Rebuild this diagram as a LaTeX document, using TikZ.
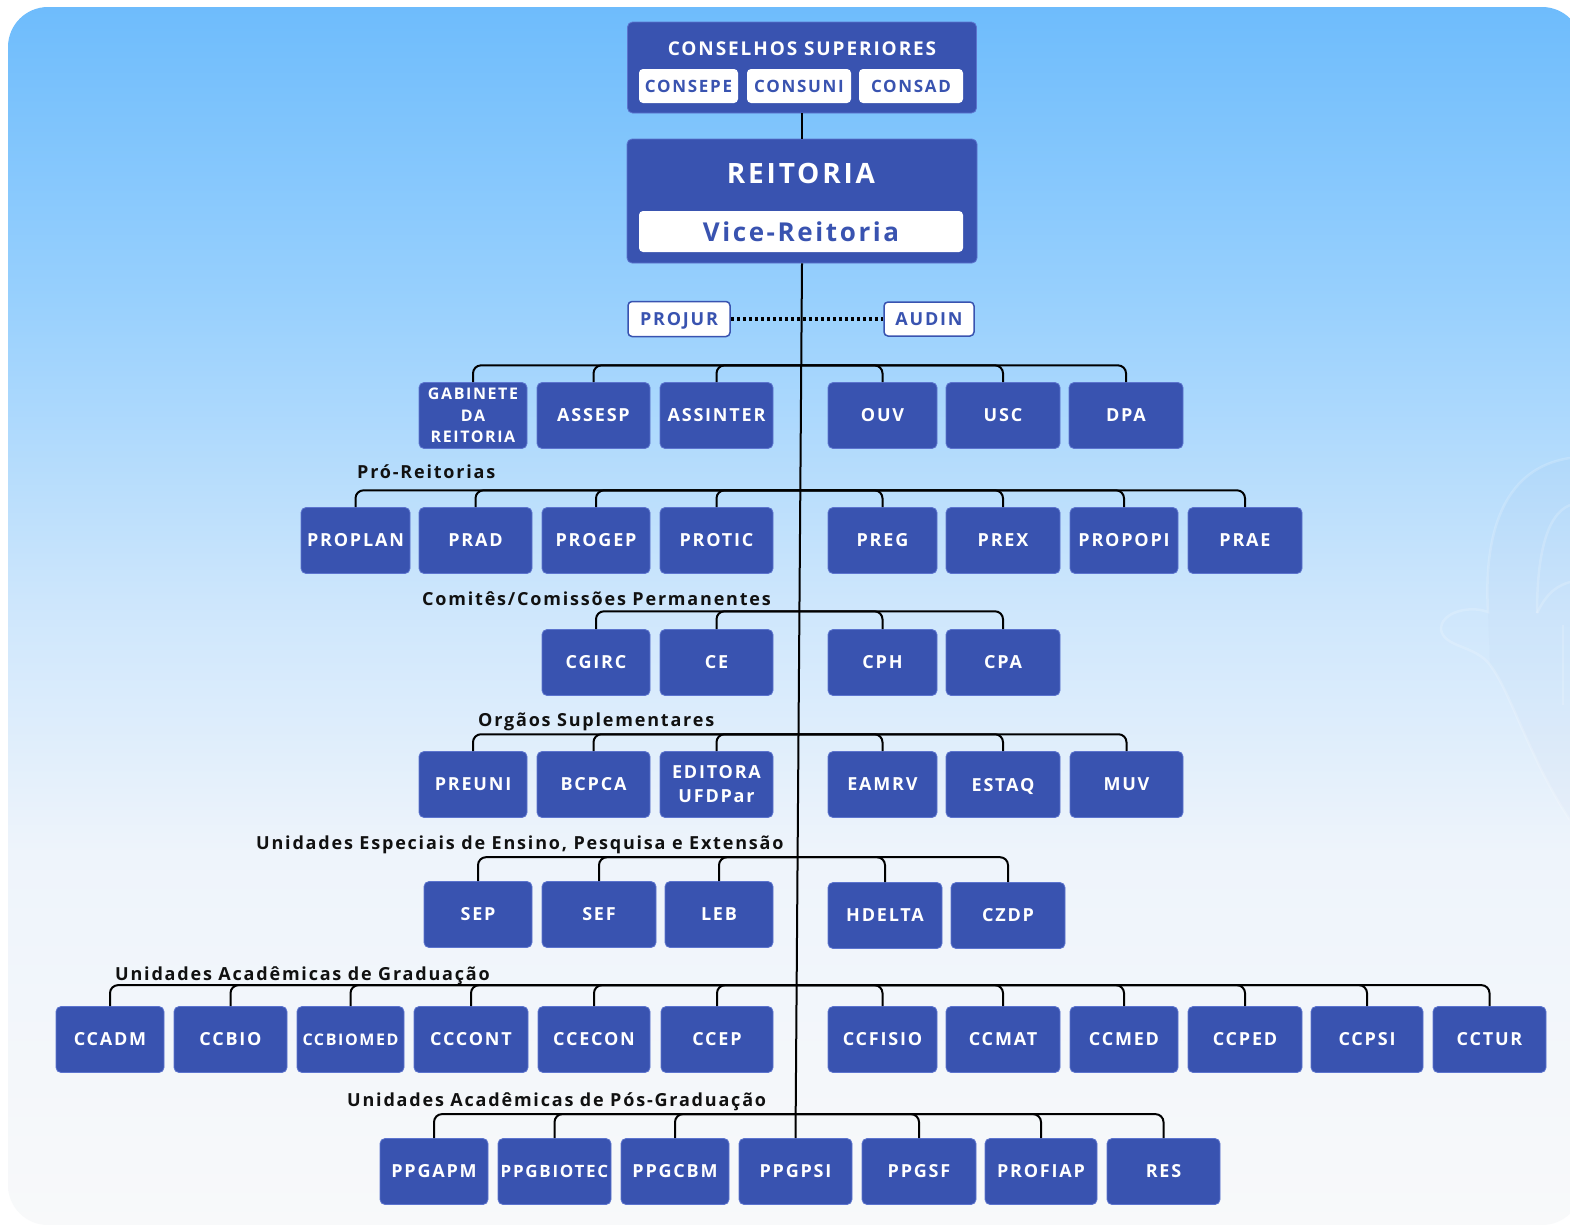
\documentclass[tikz,border=0pt]{standalone}
\usepackage{fontspec}
\newfontfamily\osf{Open Sans}[LetterSpace=10]
\usetikzlibrary{calc}
\definecolor{ublue}{RGB}{57,83,176}
\definecolor{uedge}{RGB}{92,116,206}
\definecolor{bg0}{RGB}{110,188,252}
\definecolor{bg1}{RGB}{152,208,253}
\definecolor{bg2}{RGB}{205,230,252}
\definecolor{bg3}{RGB}{238,244,251}
\definecolor{bg4}{RGB}{248,249,250}
\definecolor{lbl}{RGB}{17,17,17}
\newcommand\fs[1]{\fontsize{#1}{#1}\selectfont}
% name, x1, x2, ytop, text
\newcommand\ob[6][]{\node[ubox,minimum width={#4pt-#3pt},minimum height=66pt,#1] (#2) at ({(#3+#4)/2},{#5+33.5}) {#6};}
\begin{document}
\begin{tikzpicture}[x=1pt,y=-1pt,
  ubox/.style={fill=ublue, draw=uedge, line width=0.8pt, rounded corners=5pt, text=white, inner sep=0pt, align=center, font=\osf\bfseries\fs{18}},
  wbox/.style={fill=white, draw=none, rounded corners=4pt, text=ublue, inner sep=0pt, font=\osf\bfseries\fs{18}},
  conn/.style={draw=black, line width=2pt, rounded corners=8pt},
  grp/.style={anchor=base west, inner sep=0pt, text=lbl, font=\osf\bfseries\fs{18}},
  ttl/.style={text=white, inner sep=0pt}]
\useasboundingbox (0,0) rectangle (1570,1224);
\fill[white] (0,0) rectangle (1570,1224);
\begin{scope}
  \clip[rounded corners=40pt] (8,7) rectangle (1582,1225);
  \shade[top color=bg0,bottom color=bg1] (0,6) rectangle (1600,301);
  \shade[top color=bg1,bottom color=bg2] (0,300) rectangle (1600,601);
  \shade[top color=bg2,bottom color=bg3] (0,600) rectangle (1600,851);
  \shade[top color=bg3,bottom color=bg4] (0,850) rectangle (1600,1230);
  % faint watermark
  \fill[ublue, opacity=0.02] (1570,820) .. controls (1530,760) and (1510,690) .. (1490,665)
     -- (1488,612) .. controls (1485,560) and (1490,470) .. (1570,458) -- cycle;
  \begin{scope}[white, opacity=0.18, line width=2.5pt]
  \draw (1570,820) .. controls (1530,760) and (1510,690) .. (1490,665)
     .. controls (1475,645) and (1445,648) .. (1441,630) .. controls (1440,612) and (1470,605) .. (1488,612)
     .. controls (1485,560) and (1490,470) .. (1570,458);
  \draw (1537,613) .. controls (1537,560) and (1545,515) .. (1570,505);
  \draw (1537,613) .. controls (1548,590) and (1560,585) .. (1570,582);
  \draw (1563,625) -- (1563,705);
  \end{scope}
\end{scope}

% top blocks
\node[ubox, minimum width=349pt, minimum height=91pt] (cons) at (802,67.5) {};
\node[ttl, font=\osf\bfseries\fs{19}] (constitle) at (802,49) {CONSELHOS SUPERIORES};
\node[wbox, minimum width=99pt, minimum height=34pt, font=\osf\bfseries\fs{17}] (consepe) at (688.5,86) {CONSEPE};
\node[wbox, minimum width=104pt, minimum height=34pt, font=\osf\bfseries\fs{17}] (consuni) at (799,86) {CONSUNI};
\node[wbox, minimum width=104pt, minimum height=34pt, font=\osf\bfseries\fs{17}] (consad) at (911,86) {CONSAD};
\node[ubox, minimum width=350pt, minimum height=124pt] (reit) at (802,201) {};
\node[ttl, font=\osf\bfseries\fs{28}] (reittitle) at (801,173) {REITORIA};
\node[wbox, minimum width=324pt, minimum height=41pt, font=\osf\bfseries\fs{26}] (vice) at (801,231.5) {Vice-Reitoria};
\node[wbox, draw=ublue, line width=1.5pt, minimum width=102pt, minimum height=35pt, text height=13pt, text depth=0pt] (projur) at (679,319) {PROJUR};
\node[wbox, draw=ublue, line width=1.5pt, minimum width=90pt, minimum height=34pt, text height=13pt, text depth=0pt] (audin) at (929,319) {AUDIN};

% row 1
\ob[font=\osf\bfseries\fontsize{16}{21.5}\selectfont]{gab}{419}{527}{382}{GABINETE\\DA\\REITORIA}
\ob{assesp}{537}{650}{382}{ASSESP}
\ob{assinter}{660}{773}{382}{ASSINTER}
\ob{ouv}{828}{937}{382}{OUV}
\ob{usc}{946}{1060}{382}{USC}
\ob{dpa}{1069}{1183}{382}{DPA}
% row 2
\ob{proplan}{301}{410}{507}{PROPLAN}
\ob{prad}{419}{532}{507}{PRAD}
\ob{progep}{542}{650}{507}{PROGEP}
\ob{protic}{660}{773}{507}{PROTIC}
\ob{preg}{828}{937}{507}{PREG}
\ob{prex}{946}{1060}{507}{PREX}
\ob{propopi}{1070}{1178}{507}{PROPOPI}
\ob{prae}{1188}{1302}{507}{PRAE}
% row 3
\ob{cgirc}{542}{650}{629}{CGIRC}
\ob{ce}{660}{773}{629}{CE}
\ob{cph}{828}{937}{629}{CPH}
\ob{cpa}{946}{1060}{629}{CPA}
% row 4
\ob{preuni}{419}{527}{751}{PREUNI}
\ob{bcpca}{537}{650}{751}{BCPCA}
\ob[font=\osf\bfseries\fontsize{18}{24}\selectfont]{editora}{660}{773}{751}{EDITORA\\UFDPar}
\ob{eamrv}{828}{937}{751}{EAMRV}
\ob[text height=13pt, text depth=0pt]{estaq}{946}{1060}{751}{ESTAQ}
\ob{muv}{1070}{1183}{751}{MUV}
% row 5
\ob{sep}{424}{532}{881}{SEP}
\ob{sef}{542}{656}{881}{SEF}
\ob{leb}{665}{773}{881}{LEB}
\ob{hdelta}{828}{942}{882}{HDELTA}
\ob{czdp}{951}{1065}{882}{CZDP}
% row 6
\ob{ccadm}{56}{164}{1006}{CCADM}
\ob{ccbio}{174}{287}{1006}{CCBIO}
\ob[font=\osf\bfseries\fs{16}]{ccbiomed}{297}{404}{1006}{CCBIOMED}
\ob{cccont}{414}{528}{1006}{CCCONT}
\ob{ccecon}{538}{650}{1006}{CCECON}
\ob{ccep}{661}{773}{1006}{CCEP}
\ob{ccfisio}{828}{937}{1006}{CCFISIO}
\ob{ccmat}{946}{1060}{1006}{CCMAT}
\ob{ccmed}{1070}{1178}{1006}{CCMED}
\ob{ccped}{1188}{1302}{1006}{CCPED}
\ob{ccpsi}{1311}{1423}{1006}{CCPSI}
\ob{cctur}{1433}{1546}{1006}{CCTUR}
% row 7
\ob{ppgapm}{380}{488}{1138}{PPGAPM}
\ob[font=\osf\bfseries\fs{17}]{ppgbiotec}{498}{611}{1138}{PPGBIOTEC}
\ob{ppgcbm}{621}{729}{1138}{PPGCBM}
\ob{ppgpsi}{739}{852}{1138}{PPGPSI}
\ob{ppgsf}{862}{976}{1138}{PPGSF}
\ob{profiap}{985}{1097}{1138}{PROFIAP}
\ob{res}{1107}{1220}{1138}{RES}

% group labels
\node[grp] (lpro) at (357,478) {Pró-Reitorias};
\node[grp] (lcom) at (422,605) {Comitês/Comissões Permanentes};
\node[grp] (lorg) at (478,726) {Orgãos Suplementares};
\node[grp] (lesp) at (256,849) {Unidades Especiais de Ensino, Pesquisa e Extensão};
\node[grp] (lgrad) at (115,980) {Unidades Acadêmicas de Graduação};
\node[grp] (lpos) at (347,1106) {Unidades Acadêmicas de Pós-Graduação};

% connectors
\draw[conn] (cons.south) -- (reit.north);
\draw[line width=3.5pt, dash pattern=on 3.5pt off 2.5pt] (projur.east) -- (audin.west);
\draw[conn] (reit.south) -- (ppgpsi.north);
\coordinate (b1) at ($(reit.south)!{(365-263)/(1138-263)}!(ppgpsi.north)$);
\coordinate (b2) at ($(reit.south)!{(490-263)/(1138-263)}!(ppgpsi.north)$);
\coordinate (b3) at ($(reit.south)!{(611-263)/(1138-263)}!(ppgpsi.north)$);
\coordinate (b4) at ($(reit.south)!{(734-263)/(1138-263)}!(ppgpsi.north)$);
\coordinate (b5) at ($(reit.south)!{(857-263)/(1138-263)}!(ppgpsi.north)$);
\coordinate (b6) at ($(reit.south)!{(985-263)/(1138-263)}!(ppgpsi.north)$);
\coordinate (b7) at ($(reit.south)!{(1114-263)/(1138-263)}!(ppgpsi.north)$);
\foreach \c in {gab,assesp,assinter,ouv,usc,dpa} \draw[conn] (b1) -| (\c.north);
\foreach \c in {proplan,prad,progep,protic,preg,prex,propopi,prae} \draw[conn] (b2) -| (\c.north);
\foreach \c in {cgirc,ce,cph,cpa} \draw[conn] (b3) -| (\c.north);
\foreach \c in {preuni,bcpca,editora,eamrv,estaq,muv} \draw[conn] (b4) -| (\c.north);
\foreach \c in {sep,sef,leb,hdelta,czdp} \draw[conn] (b5) -| (\c.north);
\foreach \c in {ccadm,ccbio,ccbiomed,cccont,ccecon,ccep,ccfisio,ccmat,ccmed,ccped,ccpsi,cctur} \draw[conn] (b6) -| (\c.north);
\foreach \c in {ppgapm,ppgbiotec,ppgcbm,ppgsf,profiap,res} \draw[conn] (b7) -| (\c.north);
\end{tikzpicture}
\end{document}
